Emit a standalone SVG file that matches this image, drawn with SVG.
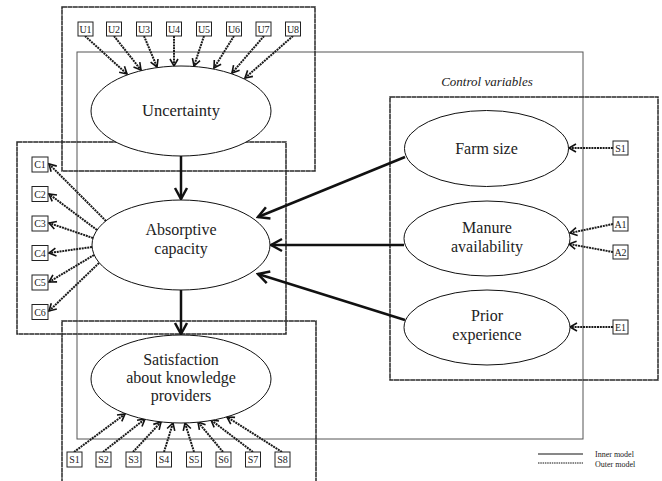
<svg xmlns="http://www.w3.org/2000/svg" width="662" height="481" viewBox="0 0 662 481" font-family="'Liberation Serif', 'Times New Roman', 'DejaVu Serif', serif">
<style>
  text { font-family: "Liberation Serif", "Times New Roman", "DejaVu Serif", serif; fill: #222; }
  .lbl { font-size: 16px; text-anchor: middle; }
  .ind { font-size: 10px; text-anchor: middle; }
  .leg { font-size: 8px; }
  .outerbox { fill: none; stroke: #2a2a2a; stroke-width: 1.5; stroke-dasharray: 5 0.4; }
  .innerbox { fill: none; stroke: #555; stroke-width: 1; }
  .lv { fill: #fff; stroke: #111; stroke-width: 1; }
  .mv { fill: #fff; stroke: #222; stroke-width: 1; }
  .dot { fill: none; stroke: #1a1a1a; stroke-width: 2; stroke-dasharray: 2 0.8; marker-end: url(#sm); }
  .bold { fill: none; stroke: #111; stroke-width: 2.5; marker-end: url(#bg); }
</style>
<defs>
  <marker id="sm" markerUnits="userSpaceOnUse" viewBox="-10 -6 12 12" refX="0" refY="0" markerWidth="12" markerHeight="12" orient="auto">
    <path d="M-7,-4 L0,0 L-7,4" fill="none" stroke="#111" stroke-width="1.6"/>
  </marker>
  <marker id="bg" markerUnits="userSpaceOnUse" viewBox="-14 -8 16 16" refX="0" refY="0" markerWidth="16" markerHeight="16" orient="auto">
    <path d="M-11,-6 L0,0 L-11,6" fill="none" stroke="#111" stroke-width="2.5"/>
  </marker>
</defs>

<g id="frames">
  <rect class="innerbox" x="77" y="52" width="506" height="387"/>
  <rect class="outerbox" x="62" y="7" width="253" height="164"/>
  <rect class="outerbox" x="17" y="142" width="269" height="192"/>
  <rect class="outerbox" x="62" y="321" width="254" height="170"/>
  <rect class="outerbox" x="390" y="97" width="268" height="283"/>
  <text x="487" y="86" style="font-size:13px;font-style:italic" text-anchor="middle">Control variables</text>
</g>

<g id="connectors">
  <line class="bold" x1="181" y1="156" x2="181" y2="199"/>
  <line class="bold" x1="181" y1="290" x2="181" y2="334"/>
  <line class="bold" x1="405" y1="157" x2="258" y2="217"/>
  <line class="bold" x1="404" y1="245" x2="271" y2="245"/>
  <line class="bold" x1="405" y1="320" x2="258" y2="274"/>
  <line class="dot" x1="85" y1="36" x2="127" y2="74"/>
  <line class="dot" x1="114" y1="36" x2="141" y2="70"/>
  <line class="dot" x1="144" y1="36" x2="157" y2="67"/>
  <line class="dot" x1="174" y1="36" x2="174" y2="66"/>
  <line class="dot" x1="204" y1="36" x2="194" y2="66"/>
  <line class="dot" x1="234" y1="36" x2="214" y2="68"/>
  <line class="dot" x1="264" y1="36" x2="232" y2="73"/>
  <line class="dot" x1="293" y1="36" x2="245" y2="78"/>
  <line class="dot" x1="106" y1="221" x2="49" y2="164"/>
  <line class="dot" x1="97" y1="230" x2="49" y2="194"/>
  <line class="dot" x1="93" y1="238" x2="49" y2="223"/>
  <line class="dot" x1="92" y1="247" x2="49" y2="253"/>
  <line class="dot" x1="94" y1="255" x2="49" y2="282"/>
  <line class="dot" x1="99" y1="263" x2="49" y2="311"/>
  <line class="dot" x1="74" y1="452" x2="125" y2="414"/>
  <line class="dot" x1="103" y1="452" x2="145" y2="419"/>
  <line class="dot" x1="133" y1="452" x2="161" y2="422"/>
  <line class="dot" x1="164" y1="452" x2="173" y2="423"/>
  <line class="dot" x1="194" y1="452" x2="185" y2="423"/>
  <line class="dot" x1="223" y1="452" x2="198" y2="422"/>
  <line class="dot" x1="253" y1="452" x2="211" y2="420"/>
  <line class="dot" x1="282" y1="452" x2="227" y2="417"/>
  <line class="dot" x1="613" y1="148" x2="569" y2="148"/>
  <line class="dot" x1="613" y1="224" x2="570" y2="233"/>
  <line class="dot" x1="613" y1="252" x2="569" y2="244"/>
  <line class="dot" x1="613" y1="327" x2="570" y2="327"/>
</g>

<g id="uncertainty">
  <ellipse class="lv" cx="181" cy="111" rx="90" ry="45"/>
  <text class="lbl" x="181" y="116" style="font-size:16.5px">Uncertainty</text>
</g>
<g id="absorptive">
  <ellipse class="lv" cx="181" cy="245" rx="89" ry="45"/>
  <text class="lbl" x="181" y="235">Absorptive</text>
  <text class="lbl" x="181" y="254">capacity</text>
</g>
<g id="satisfaction">
  <ellipse class="lv" cx="181" cy="379" rx="90" ry="44"/>
  <text class="lbl" x="181" y="365">Satisfaction</text>
  <text class="lbl" x="181" y="383">about knowledge</text>
  <text class="lbl" x="181" y="401">providers</text>
</g>
<g id="farmsize">
  <ellipse class="lv" cx="486.5" cy="148.5" rx="82" ry="38"/>
  <text class="lbl" x="486.5" y="154">Farm size</text>
</g>
<g id="manure">
  <ellipse class="lv" cx="487" cy="238.5" rx="83" ry="37.5"/>
  <text class="lbl" x="487" y="233">Manure</text>
  <text class="lbl" x="487" y="252">availability</text>
</g>
<g id="prior">
  <ellipse class="lv" cx="487" cy="327.5" rx="83" ry="37.5"/>
  <text class="lbl" x="487" y="321">Prior</text>
  <text class="lbl" x="487" y="340">experience</text>
</g>

<g id="u-indicators">
  <rect class="mv" x="78" y="22" width="15" height="14"/><text class="ind" x="85.5" y="33">U1</text>
  <rect class="mv" x="106.5" y="22" width="15" height="14"/><text class="ind" x="114" y="33">U2</text>
  <rect class="mv" x="136.5" y="22" width="15" height="14"/><text class="ind" x="144" y="33">U3</text>
  <rect class="mv" x="166.5" y="22" width="15" height="14"/><text class="ind" x="174" y="33">U4</text>
  <rect class="mv" x="196.5" y="22" width="15" height="14"/><text class="ind" x="204" y="33">U5</text>
  <rect class="mv" x="226.5" y="22" width="15" height="14"/><text class="ind" x="234" y="33">U6</text>
  <rect class="mv" x="256" y="22" width="15" height="14"/><text class="ind" x="263.5" y="33">U7</text>
  <rect class="mv" x="285.5" y="22" width="15" height="14"/><text class="ind" x="293" y="33">U8</text>
</g>
<g id="c-indicators">
  <rect class="mv" x="32" y="157" width="16" height="15"/><text class="ind" x="40" y="168">C1</text>
  <rect class="mv" x="32" y="186.5" width="16" height="15"/><text class="ind" x="40" y="197.5">C2</text>
  <rect class="mv" x="32" y="216" width="16" height="15"/><text class="ind" x="40" y="227">C3</text>
  <rect class="mv" x="32" y="245.5" width="16" height="15"/><text class="ind" x="40" y="256.5">C4</text>
  <rect class="mv" x="32" y="275" width="16" height="15"/><text class="ind" x="40" y="286">C5</text>
  <rect class="mv" x="32" y="304.5" width="16" height="15"/><text class="ind" x="40" y="315.5">C6</text>
</g>
<g id="s-indicators">
  <rect class="mv" x="67" y="452" width="15" height="15"/><text class="ind" x="74.5" y="463">S1</text>
  <rect class="mv" x="96" y="452" width="15" height="15"/><text class="ind" x="103.5" y="463">S2</text>
  <rect class="mv" x="126" y="452" width="15" height="15"/><text class="ind" x="133.5" y="463">S3</text>
  <rect class="mv" x="156.5" y="452" width="15" height="15"/><text class="ind" x="164" y="463">S4</text>
  <rect class="mv" x="186.5" y="452" width="15" height="15"/><text class="ind" x="194" y="463">S5</text>
  <rect class="mv" x="216" y="452" width="15" height="15"/><text class="ind" x="223.5" y="463">S6</text>
  <rect class="mv" x="245.5" y="452" width="15" height="15"/><text class="ind" x="253" y="463">S7</text>
  <rect class="mv" x="275" y="452" width="15" height="15"/><text class="ind" x="282.5" y="463">S8</text>
</g>
<g id="control-indicators">
  <rect class="mv" x="613" y="141" width="15" height="14"/><text class="ind" x="620.5" y="152">S1</text>
  <rect class="mv" x="613" y="217" width="15" height="14"/><text class="ind" x="620.5" y="228">A1</text>
  <rect class="mv" x="613" y="245" width="15" height="14"/><text class="ind" x="620.5" y="256">A2</text>
  <rect class="mv" x="613" y="320" width="15" height="14"/><text class="ind" x="620.5" y="331">E1</text>
</g>

<g id="legend">
  <line x1="538" y1="454" x2="583" y2="454" stroke="#111" stroke-width="1"/>
  <line x1="538" y1="463" x2="583" y2="463" stroke="#111" stroke-width="1" stroke-dasharray="1.5 0.8"/>
  <text class="leg" x="595" y="457">Inner model</text>
  <text class="leg" x="595" y="466.5">Outer model</text>
</g>
</svg>
